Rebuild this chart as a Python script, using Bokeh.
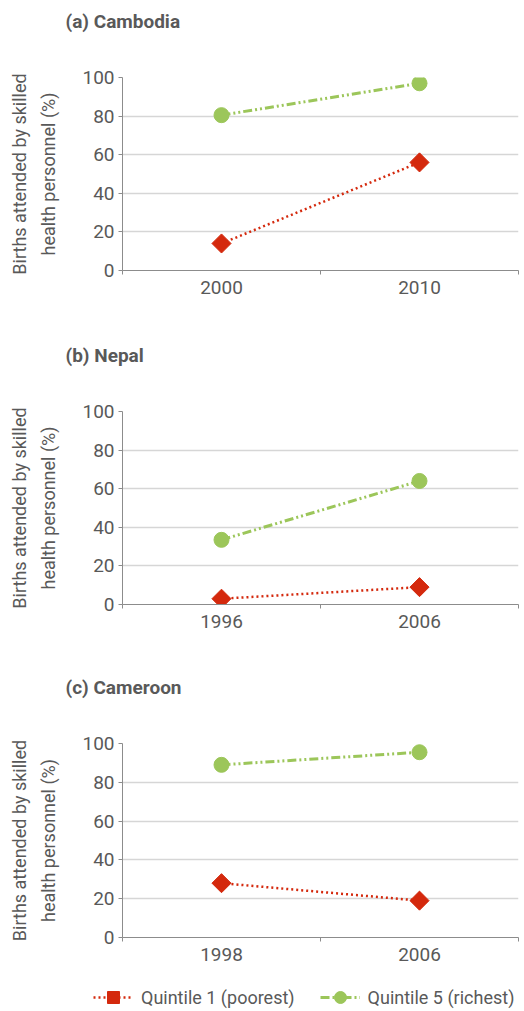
import math
from bokeh.plotting import figure
from bokeh.layouts import column
from bokeh.models import Range1d, FixedTicker, Title, Legend, LegendItem
from bokeh.embed import file_html
from bokeh.resources import INLINE

# ---- data ----
cambodia_years = ["2000", "2010"]
cambodia_q1 = [14, 56]
cambodia_q5 = [80.5, 97]

nepal_years = ["1996", "2006"]
nepal_q1 = [3, 9]
nepal_q5 = [33.5, 64]

cameroon_years = ["1998", "2006"]
cameroon_q1 = [28, 19]
cameroon_q5 = [89, 95.5]

y_ticks = [0, 20, 40, 60, 80, 100]
series_labels = ["Quintile 1 (poorest)", "Quintile 5 (richest)"]
titles = ["(a) Cambodia", "(b) Nepal", "(c) Cameroon"]
y_label = "Births attended by skilled\nhealth personnel (%)"

FONT = "Roboto"
RED = "#d4290d"
GREEN = "#9cc65a"
TXT = "#595959"
AXIS = "#8c8c8c"

Q1_LINE = dict(line_color=RED, line_width=2.5, line_dash="2 3")
Q5_LINE = dict(line_color=GREEN, line_width=3, line_dash="9 3 2 3 2 3")
Q1_MARK = dict(marker="square", angle=math.pi / 4, size=13.5,
               fill_color=RED, line_color=RED)
Q5_MARK = dict(marker="circle", size=15, fill_color=GREEN, line_color=GREEN)


def make_panel(title, years, q1, q5, frame_h, bottom):
    n = len(years)
    xs = [i + 0.5 for i in range(n)]
    p = figure(frame_width=396, frame_height=frame_h,
               min_border_left=122, min_border_right=6,
               min_border_top=77, min_border_bottom=bottom,
               x_range=Range1d(0, n), y_range=Range1d(0, 100),
               output_backend="svg", toolbar_location=None, title=None)
    p.outline_line_color = None
    # spacer (closest to frame), then the real title further out
    p.add_layout(Title(text=" ", text_font_size="1px", standoff=42), "above")
    p.add_layout(Title(text=title, text_font=FONT, text_font_size="19px",
                       text_font_style="bold", text_color=TXT,
                       vertical_align="bottom",
                       offset=-57, standoff=0), "above")

    p.line(xs, q1, **Q1_LINE)
    p.line(xs, q5, **Q5_LINE)
    p.scatter(xs, q1, **Q1_MARK)
    p.scatter(xs, q5, **Q5_MARK)

    # x axis
    p.xaxis.ticker = FixedTicker(ticks=xs, minor_ticks=list(range(n + 1)))
    p.xaxis.major_label_overrides = {x: y for x, y in zip(xs, years)}
    p.xaxis.major_tick_line_color = None
    p.xaxis.minor_tick_in = 0
    p.xaxis.minor_tick_out = 4
    p.xaxis.minor_tick_line_color = AXIS
    p.xaxis.axis_line_color = AXIS
    p.xaxis.major_label_text_font = FONT
    p.xaxis.major_label_text_font_size = "19px"
    p.xaxis.major_label_text_color = TXT
    p.xaxis.major_label_standoff = 4
    p.xgrid.grid_line_color = None

    # y axis
    p.yaxis.ticker = FixedTicker(ticks=y_ticks)
    p.yaxis.axis_line_color = AXIS
    p.yaxis.major_tick_line_color = AXIS
    p.yaxis.major_tick_in = 0
    p.yaxis.major_tick_out = 4
    p.yaxis.minor_tick_line_color = None
    p.yaxis.major_label_text_font = FONT
    p.yaxis.major_label_text_font_size = "19px"
    p.yaxis.major_label_text_color = TXT
    p.yaxis.major_label_standoff = 4
    p.yaxis.axis_label = y_label
    p.yaxis.axis_label_text_font = FONT
    p.yaxis.axis_label_text_font_size = "18px"
    p.yaxis.axis_label_text_font_style = "normal"
    p.yaxis.axis_label_text_color = TXT
    p.yaxis.axis_label_text_line_height = 1.4
    p.yaxis.axis_label_standoff = 20
    p.ygrid.grid_line_color = "#d6d6d6"
    p.ygrid.grid_line_width = 1.5
    return p


pa = make_panel(titles[0], cambodia_years, cambodia_q1, cambodia_q5, 193, 64)
pb = make_panel(titles[1], nepal_years, nepal_q1, nepal_q5, 193, 62)
pc = make_panel(titles[2], cameroon_years, cameroon_q1, cameroon_q5, 194, 44)

# legend strip: same series drawn out of view, only the legend is visible
leg_x = [i + 0.5 for i in range(len(cameroon_years))]
pl = figure(width=524, height=29, min_border=0,
            min_border_left=0, min_border_right=0,
            min_border_top=0, min_border_bottom=0,
            x_range=Range1d(0, len(cameroon_years)), y_range=Range1d(500, 501),
            x_axis_type=None, y_axis_type=None,
            output_backend="svg", toolbar_location=None)
pl.outline_line_color = None
pl.grid.visible = False
l1 = pl.line(leg_x, cameroon_q1, **Q1_LINE)
m1 = pl.scatter(leg_x, cameroon_q1, **Q1_MARK)
l5 = pl.line(leg_x, cameroon_q5, **Q5_LINE)
m5 = pl.scatter(leg_x, cameroon_q5, **Q5_MARK)
legend = Legend(items=[
    LegendItem(label=series_labels[0], renderers=[l1, m1]),
    LegendItem(label=series_labels[1], renderers=[l5, m5]),
], orientation="horizontal", location=(93, -2),
    glyph_width=40, glyph_height=30, label_standoff=8, spacing=25,
    padding=0, margin=0, border_line_color=None,
    background_fill_alpha=0,
    label_text_font=FONT, label_text_font_size="18px",
    label_text_color=TXT)
pl.add_layout(legend)

layout = column(column(pa, pb, pc, spacing=0), pl, spacing=0)
open("out.html", "w").write(file_html(layout, INLINE))
